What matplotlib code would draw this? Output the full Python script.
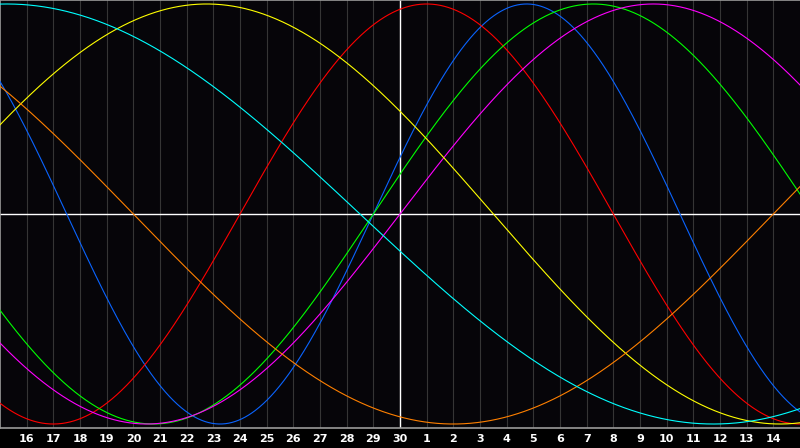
import numpy as np
import matplotlib
matplotlib.use('Agg')
import matplotlib.pyplot as plt
import matplotlib.transforms as mtransforms

# Biorhythm cycles (period in days) and line colours
periods = [23, 28, 33, 38, 43, 48, 53]
colors = ['#0a64ff', '#ff0000', '#00ff00', '#ff00ff', '#ffff00', '#ff8000', '#00ffff']

# days alive at the left edge of the chart
days_alive = 29587

# day labels along the bottom (end of a 30-day month, start of next)
day_labels = [16, 17, 18, 19, 20, 21, 22, 23, 24, 25, 26, 27, 28, 29, 30,
              1, 2, 3, 4, 5, 6, 7, 8, 9, 10, 11, 12, 13, 14]
today_index = 14  # label "30"

fig = plt.figure(figsize=(8, 4.48), dpi=100, facecolor='#000000')
ax = fig.add_axes([0, 20 / 448, 1, 428 / 448])
ax.set_facecolor('#060509')

n_days = len(day_labels) + 1
ax.set_xlim(0, n_days)
ax.set_ylim(-1.019, 1.019)

# day grid
for i in range(1, n_days):
    ax.axvline(i, color='#353535', lw=0.8, zorder=1)

# biorhythm curves
d = np.linspace(0, n_days, 1201)
for p, c in zip(periods, colors):
    v = np.sin(2 * np.pi * (days_alive + d) / p)
    ax.plot(d, v, color=c, lw=0.8, zorder=3)

# centre cross
ax.axhline(0, color='white', lw=1.0, zorder=2)
ax.axvline(today_index + 1, color='white', lw=1.0, zorder=2)

ax.spines['right'].set_visible(False)
for s in ['left', 'top', 'bottom']:
    ax.spines[s].set_color('#9a9a9a')
    ax.spines[s].set_linewidth(1.2)
ax.set_xticks([])
ax.set_yticks([])

trans = mtransforms.blended_transform_factory(ax.transData, fig.transFigure)
for i, lab in enumerate(day_labels):
    fig.text(i + 1, 1 - 439 / 448, str(lab), transform=trans, color='white',
             fontsize=8, fontweight='bold', ha='center', va='center',
             family='DejaVu Sans')

fig.savefig('out.png', dpi=100, facecolor=fig.get_facecolor())
